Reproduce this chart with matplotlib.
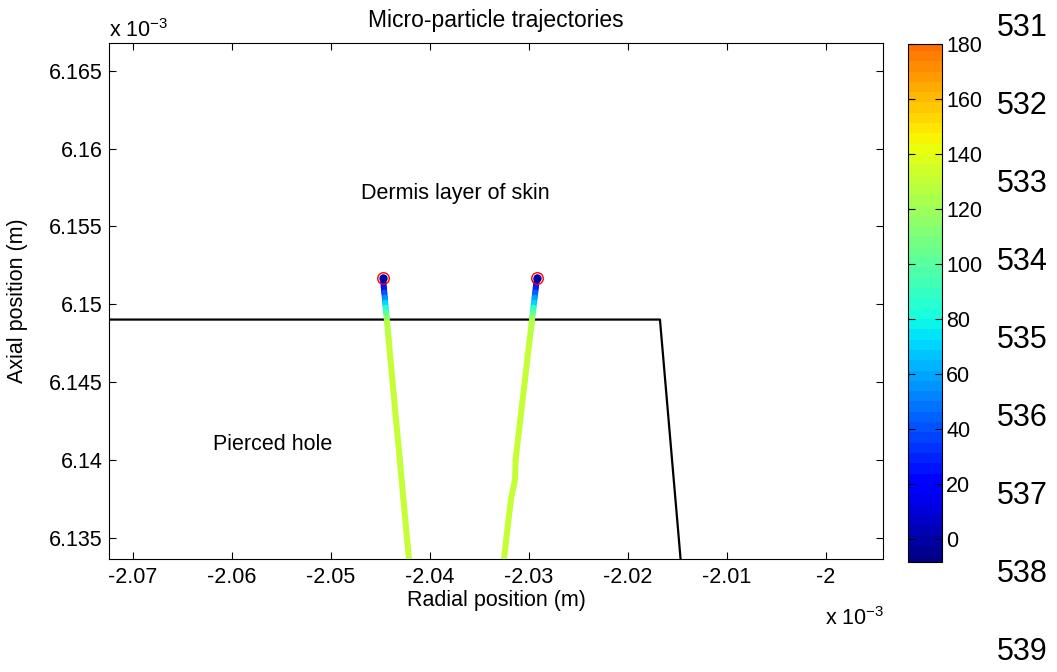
import numpy as np
import matplotlib.pyplot as plt
from matplotlib.collections import LineCollection
from matplotlib.colors import Normalize
from matplotlib.ticker import FuncFormatter
import matplotlib.cm as cm

plt.rcParams['font.family'] = ['Liberation Sans', 'DejaVu Sans']

# positions in units of 1e-3 m
p1_x = [-2.04475, -2.04470, -2.04466, -2.04461, -2.04456, -2.04452, -2.04447,
        -2.04442, -2.04437, -2.04433, -2.04417, -2.04380, -2.04343, -2.04305,
        -2.04268, -2.04231, -2.04208]
p1_y = [6.15171, 6.15139, 6.15107, 6.15075, 6.15043, 6.15011, 6.14979,
        6.14947, 6.14915, 6.14883, 6.14774, 6.14517, 6.14261, 6.14004,
        6.13748, 6.13491, 6.13344]
p1_c = [0, 10, 25, 40, 55, 70, 85, 100, 115, 128, 131, 131, 131, 131, 131, 131, 131]

p2_x = [-2.02919, -2.02925, -2.02931, -2.02937, -2.02943, -2.02949, -2.02955,
        -2.02961, -2.02967, -2.02972, -2.02993, -2.03040, -2.03087, -2.03135,
        -2.03140, -2.03182, -2.03229, -2.03256]
p2_y = [6.15171, 6.15139, 6.15107, 6.15075, 6.15043, 6.15011, 6.14979,
        6.14947, 6.14915, 6.14883, 6.14774, 6.14517, 6.14261, 6.14004,
        6.13876, 6.13748, 6.13491, 6.13344]
p2_c = [0, 12, 28, 45, 60, 72, 88, 102, 118, 128, 131, 131, 131, 131, 131, 131, 131, 131]

# hole boundary
wall_x = [-2.080, -2.01677, -2.01460]
wall_y = [6.14902, 6.14902, 6.13300]

xticks = [-2.07, -2.06, -2.05, -2.04, -2.03, -2.02, -2.01, -2.0]
yticks = [6.135, 6.14, 6.145, 6.15, 6.155, 6.16, 6.165]
cticks = [0, 20, 40, 60, 80, 100, 120, 140, 160, 180]
line_numbers = ["531", "532", "533", "534", "535", "536", "537", "538", "539"]

W, H = 1057, 672
fig = plt.figure(figsize=(W / 100, H / 100), dpi=100)
ax = fig.add_axes([0.1031, 0.1682, 0.7323, 0.7679])
cax = fig.add_axes([0.859, 0.1637, 0.0322, 0.7708])

cmap = plt.get_cmap('jet', 64)
norm = Normalize(vmin=-10, vmax=230)
fs = 15.5

ax.plot(wall_x, wall_y, color='black', lw=1.6, zorder=2)

for xs, ys, cs in [(p1_x, p1_y, p1_c), (p2_x, p2_y, p2_c)]:
    pts = np.column_stack([xs, ys])
    segs = np.stack([pts[:-1], pts[1:]], axis=1)
    lc = LineCollection(segs, cmap=cmap, norm=norm, linewidths=4.3,
                        capstyle='round', zorder=3)
    lc.set_array(np.asarray(cs[:-1], dtype=float))
    ax.add_collection(lc)
    ax.plot(xs[0], ys[0], 'o', ms=8.3, mfc='none', mec='red', mew=1.0, zorder=5)
    ax.plot(xs[0], ys[0], 'o', ms=6, mfc=cmap(norm(cs[0])), mec='none', zorder=4)

ax.set_xlim(-2.07242, -1.99424)
ax.set_ylim(6.13365, 6.16678)
ax.set_xticks(xticks)
ax.set_yticks(yticks)
fmt = FuncFormatter(lambda v, p: f"{v:g}")
ax.xaxis.set_major_formatter(fmt)
ax.yaxis.set_major_formatter(fmt)
ax.tick_params(direction='in', length=5, width=0.8, top=True, right=True,
               labelsize=fs)
ax.tick_params(axis='x', pad=6)
ax.tick_params(axis='y', pad=4.5)
for s in ax.spines.values():
    s.set_linewidth(0.8)

ax.set_title("Micro-particle trajectories", fontsize=16.5, pad=11.5)
ax.set_xlabel("Radial position (m)", fontsize=fs)
ax.set_ylabel("Axial position (m)", fontsize=fs)
ax.xaxis.set_label_coords(0.5, (559 - 590) / 516)
ax.yaxis.set_label_coords((28 - 109) / 774, 0.5)

ax.text(-2.0470, 6.1571, "Dermis layer of skin", fontsize=fs, va='center', ha='left')
ax.text(-2.0619, 6.1410, "Pierced hole", fontsize=fs, va='center', ha='left')

# exponent labels
fig.text(109 / W, 1 - 37 / H, r"x 10$^{\mathregular{-3}}$", fontsize=fs,
         va='baseline', ha='left')
fig.text(825 / W, 1 - 625 / H, r"x 10$^{\mathregular{-3}}$", fontsize=fs,
         va='baseline', ha='left')

sm = cm.ScalarMappable(norm=norm, cmap=cmap)
cbar = fig.colorbar(sm, cax=cax)
cbar.set_ticks(cticks)
cbar.ax.set_ylim(-8.4, 180)
cbar.ax.tick_params(direction='in', length=5, width=0.8, left=True, right=True,
                    labelsize=fs, pad=3)
cbar.outline.set_linewidth(0.8)

for i, t in enumerate(line_numbers):
    fig.text(1022 / W, 1 - (28 + i * 78) / H, t, fontsize=22,
             ha='center', va='center')

fig.savefig("out.png", dpi=100)
